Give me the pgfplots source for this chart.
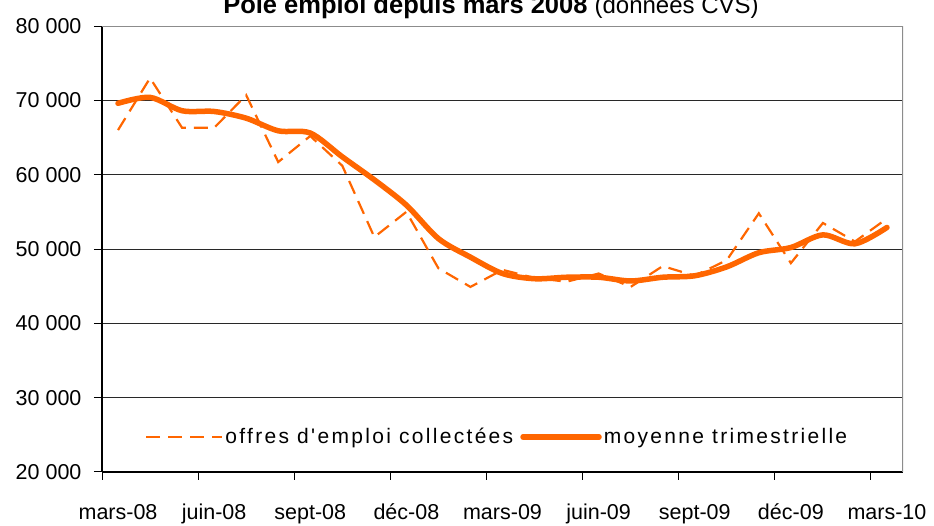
\documentclass[border=0pt]{standalone}
\usepackage{pgfplots}
\pgfplotsset{compat=1.18}
\usepackage{fontspec}
\setmainfont{Liberation Sans}
\newfontfamily\legfont[LetterSpace=11]{Liberation Sans}
\definecolor{orng}{RGB}{255,102,0}
\definecolor{gridc}{RGB}{40,40,40}
\definecolor{bordc}{RGB}{140,140,140}
\pgfplotstableread{
i offres moyenne
0 66000 69600
1 73000 70400
2 66300 68600
3 66300 68500
4 70700 67600
5 61700 65900
6 65200 65600
7 61200 62400
8 51600 59300
9 55000 55900
10 47400 51400
11 44900 48900
12 47200 46700
13 46100 46000
14 45600 46200
15 46700 46200
16 44900 45700
17 47700 46200
18 46400 46400
19 48500 47600
20 54800 49500
21 48100 50200
22 53500 51900
23 51000 50700
24 54100 52900
}\datatable
\begin{document}
\begin{tikzpicture}
\useasboundingbox (0,0) rectangle (934bp,526bp);
\node[anchor=base] at (491bp,512bp) {\fontsize{25.5bp}{28bp}\selectfont\textbf{Pôle emploi depuis mars 2008} \fontsize{24bp}{28bp}\selectfont(données CVS)};
\begin{axis}[
  at={(102bp,54bp)}, anchor=south west,
  width=801bp, height=446bp, scale only axis,
  xmin=-0.5, xmax=24.5, ymin=20000, ymax=80000,
  axis x line*=bottom, axis y line*=left,
  axis line style={black, line width=1.2bp},
  xtick={0,3,6,9,12,15,18,21,24},
  xticklabels={mars-08,juin-08,sept-08,déc-08,mars-09,juin-09,sept-09,déc-09,mars-10},
  every major x tick/.append style={draw=none},
  minor xtick={-0.5,2.5,5.5,8.5,11.5,14.5,17.5,20.5,23.5},
  minor tick length=8bp,
  xticklabel style={anchor=base, yshift=-39bp},
  ytick={20000,30000,...,80000},
  scaled y ticks=false,
  yticklabels={20 000,30 000,40 000,50 000,60 000,70 000,80 000},
  tick align=outside, major tick length=8bp,
  tick style={black, line width=1bp},
  ticklabel style={font=\fontsize{21.5bp}{24bp}\selectfont},
  yticklabel style={anchor=east, xshift=-9bp},
  ymajorgrids, grid style={gridc, line width=1bp},
  legend columns=2,
  legend style={draw=none, fill=none, at={(rel axis cs:0.0537,0.0785)}, anchor=west, inner sep=0pt,
    font=\legfont\fontsize{21bp}{24bp}\selectfont,
    /tikz/column 2/.style={column sep=5bp}},
  legend cell align=left,
  legend image code/.code={\draw[#1] (0bp,0bp) -- (76bp,0bp);},
]
\addplot[orng, line width=2.2bp, dash pattern=on 14bp off 8bp] table[x=i, y=offres] {\datatable};
\addlegendentry{offres d'emploi collectées}
\addplot[orng, line width=5.5bp, smooth, line cap=round, line join=round] table[x=i, y=moyenne] {\datatable};
\addlegendentry{moyenne trimestrielle}
\draw[bordc, line width=1.8bp] (rel axis cs:0,1) -- (rel axis cs:1,1) -- (rel axis cs:1,0);
\end{axis}
\end{tikzpicture}
\end{document}
